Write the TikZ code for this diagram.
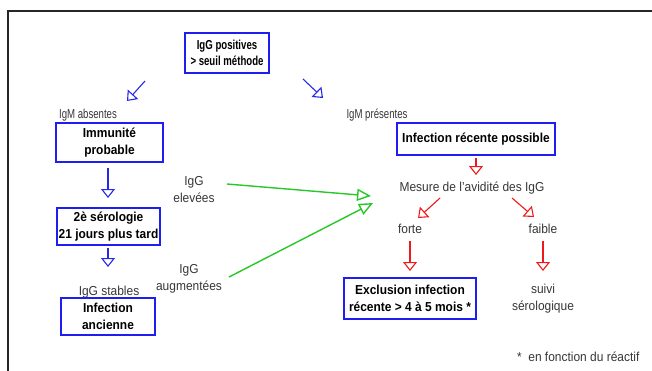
\documentclass[tikz,border=0pt]{standalone}
\usepackage{fontspec}
\setmainfont[FakeStretch=0.92]{Liberation Sans}
\newfontfamily\narrowfont[FakeStretch=0.74]{Liberation Sans}
\usetikzlibrary{arrows.meta}
\definecolor{boxblue}{RGB}{30,30,240}
\definecolor{arrblue}{RGB}{40,40,235}
\definecolor{arrred}{RGB}{240,25,25}
\definecolor{arrgreen}{RGB}{40,200,40}
\definecolor{labgray}{RGB}{55,55,55}
\begin{document}
\begin{tikzpicture}[x=1pt,y=-1pt,
  font=\fontsize{13}{17}\selectfont,
  box/.style={draw=boxblue, line width=1.5pt, align=center, inner sep=0pt,
    font=\fontsize{13}{17}\selectfont\bfseries},
  lab/.style={text=labgray, align=center, inner sep=0pt},
  openarrow/.style={line width=1.1pt, -{Triangle[open,length=9pt,width=14pt,line width=1.1pt]}},
  barrow/.style={openarrow, draw=arrblue},
  rarrow/.style={openarrow, draw=arrred},
  garrow/.style={draw=arrgreen, line width=1.4pt, -{Triangle[open,length=14pt,width=12pt,line width=1.4pt]}}
]
\useasboundingbox (0,0) rectangle (652,370);
\fill[white] (0,0) rectangle (652,370);
% frame
\draw[line width=1.6pt, black!85] (8,372) -- (8,11) -- (654,11);

% nodes
\node[box, minimum width=84pt, minimum height=40pt, font=\fontsize{13}{16}\selectfont\narrowfont\bfseries] (top) at (227,53) {IgG positives\\> seuil méthode};
\node[lab, font=\fontsize{13}{17}\selectfont\narrowfont] (igmabs) at (88,115) {IgM absentes};
\node[lab, font=\fontsize{13}{17}\selectfont\narrowfont] (igmpres) at (377,115) {IgM présentes};
\node[box, minimum width=107pt, minimum height=39pt] (imm) at (109.5,142.5) {Immunité\\probable};
\node[box, minimum width=103pt, minimum height=37pt] (sero) at (108.5,226.5) {2è sérologie\\21 jours plus tard};
\node[lab] (stab) at (109,292) {IgG stables};
\node[box, minimum width=94pt, minimum height=37pt] (anc) at (108,316.5) {Infection\\ancienne};
\node[lab] (elev) at (194,190) {IgG\\elevées};
\node[lab] (augm) at (189,278.5) {IgG\\augmentées};
\node[box, minimum width=158pt, minimum height=32pt] (irp) at (476,139) {Infection récente possible};
\node[lab] (mes) at (472,188) {Mesure de l'avidité des IgG};
\node[lab] (forte) at (410,229) {forte};
\node[lab] (faible) at (543,229) {faible};
\node[box, minimum width=132pt, minimum height=41pt] (excl) at (410,298.5) {Exclusion infection\\récente > 4 à 5 mois *};
\node[lab] (suivi) at (543,299) {suivi\\sérologique};
\node[lab, anchor=west] (note) at (517,357) {*\enspace en fonction du réactif};

% arrow end points
\coordinate (bls) at (145,81);  \coordinate (ble) at (127,101);
\coordinate (brs) at (303,79);  \coordinate (bre) at (323,98);
\coordinate (v1s) at (108,168); \coordinate (v1e) at (108,198);
\coordinate (v2s) at (108,248); \coordinate (v2e) at (108,267);
\coordinate (g1s) at (227,184); \coordinate (g1e) at (371,196);
\coordinate (g2s) at (229,277); \coordinate (g2e) at (373,203);
\coordinate (r1s) at (476,158); \coordinate (r1e) at (476,175);
\coordinate (r2s) at (440,198); \coordinate (r2e) at (418,218);
\coordinate (r3s) at (512,198); \coordinate (r3e) at (534,217);
\coordinate (r4s) at (410,241); \coordinate (r4e) at (410,271);
\coordinate (r5s) at (543,241); \coordinate (r5e) at (543,271);

% connectors
\draw[barrow] (bls) -- (ble);
\draw[barrow] (brs) -- (bre);
\draw[barrow] (v1s) -- (v1e);
\draw[barrow] (v2s) -- (v2e);
\draw[garrow] (g1s) -- (g1e);
\draw[garrow] (g2s) -- (g2e);
\draw[rarrow] (r1s) -- (r1e);
\draw[rarrow] (r2s) -- (r2e);
\draw[rarrow] (r3s) -- (r3e);
\draw[rarrow] (r4s) -- (r4e);
\draw[rarrow] (r5s) -- (r5e);
\end{tikzpicture}
\end{document}
